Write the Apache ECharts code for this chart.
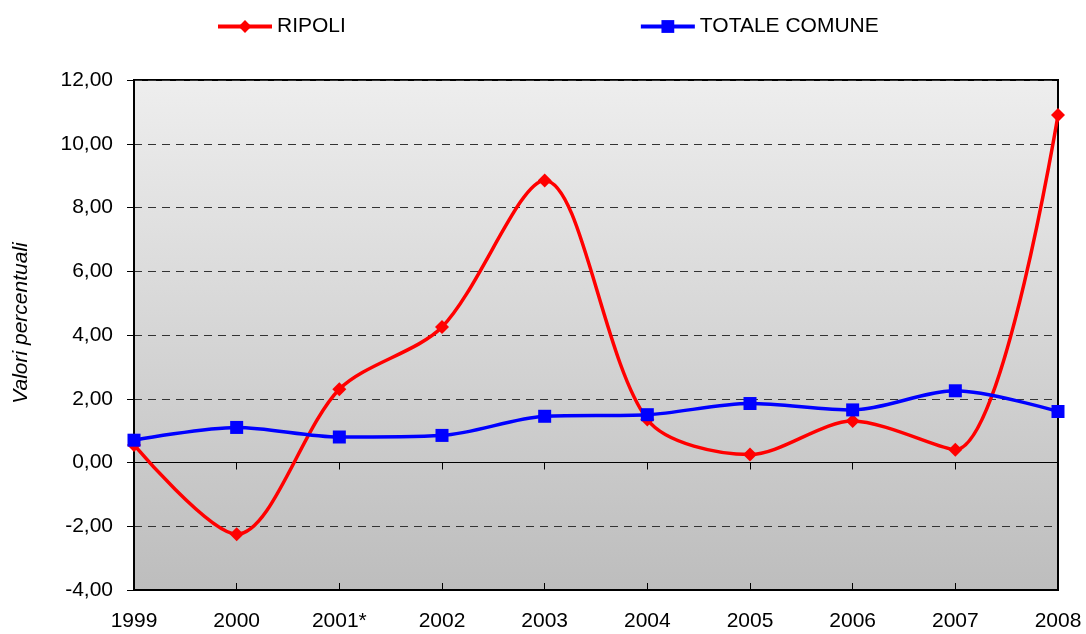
<!DOCTYPE html>
<html>
<head>
<meta charset="utf-8">
<script src="https://cdn.jsdelivr.net/npm/echarts@6/dist/echarts.min.js"></script>
<style>
  html, body { margin: 0; padding: 0; background: #fff; }
  #grafico { width: 1086px; height: 634px; }
</style>
</head>
<body>
<div id="grafico"></div>
<script>
var anni = ['1999', '2000', '2001*', '2002', '2003', '2004', '2005', '2006', '2007', '2008'];
var ripoli = [0.55, -2.25, 2.3, 4.25, 8.85, 1.35, 0.25, 1.3, 0.4, 10.9];
var totaleComune = [0.7, 1.1, 0.8, 0.85, 1.45, 1.5, 1.85, 1.65, 2.25, 1.6];

var chart = echarts.init(document.getElementById('grafico'));
var font = 'Liberation Sans, Arial, sans-serif';

function virgola(v) {
  return v.toFixed(2).replace('.', ',');
}

var option = {
  animation: false,
  textStyle: { fontFamily: font },
  legend: {
    top: 11,
    left: 211,
    itemGap: 293,
    itemWidth: 54,
    itemHeight: 16,
    lineStyle: { width: 4 },
    textStyle: { fontSize: 21, color: '#000', fontFamily: font },
    data: ['RIPOLI', 'TOTALE COMUNE']
  },
  grid: {
    left: 134,
    right: 28,
    top: 80,
    bottom: 44,
    show: true,
    borderColor: '#000',
    borderWidth: 2,
    backgroundColor: {
      type: 'linear', x: 0, y: 0, x2: 0, y2: 1,
      colorStops: [
        { offset: 0, color: '#eeeeee' },
        { offset: 1, color: '#bdbdbd' }
      ]
    }
  },
  xAxis: [
    {
      type: 'category',
      data: anni,
      boundaryGap: false,
      axisLine: { onZero: false, show: false },
      axisTick: { show: false },
      axisLabel: { fontSize: 21, color: '#000', margin: 21, fontFamily: font },
      splitLine: { show: false }
    },
    {
      type: 'category',
      data: anni,
      boundaryGap: false,
      position: 'bottom',
      axisLine: { onZero: true, lineStyle: { color: '#000', width: 1 } },
      axisTick: { show: true, length: 7, lineStyle: { color: '#000' } },
      axisLabel: { show: false }
    },
    {
      type: 'category',
      data: anni,
      boundaryGap: false,
      position: 'bottom',
      axisLine: { onZero: true, lineStyle: { color: '#000', width: 1 } },
      axisTick: { show: true, inside: true, length: 7, lineStyle: { color: '#000' } },
      axisLabel: { show: false }
    }
  ],
  yAxis: {
    type: 'value',
    min: -4,
    max: 12,
    interval: 2,
    name: 'Valori percentuali',
    nameLocation: 'middle',
    nameGap: 102,
    nameTextStyle: {
      fontSize: 21, fontStyle: 'italic', color: '#000', fontFamily: font,
      padding: [0, 0, 0, 24]
    },
    axisLine: { show: true, lineStyle: { color: '#000', width: 2 } },
    axisTick: { show: true, length: 7, lineStyle: { color: '#000' } },
    axisLabel: { fontSize: 21, color: '#000', margin: 21, fontFamily: font, formatter: virgola },
    splitLine: { show: true, lineStyle: { color: '#333', type: [8, 6], width: 1 } }
  },
  series: [
    {
      name: 'RIPOLI',
      type: 'line',
      data: ripoli,
      smooth: 0.3,
      symbol: 'diamond',
      symbolSize: 14,
      lineStyle: { color: '#ff0000', width: 3.5 },
      itemStyle: { color: '#ff0000' },
      z: 3
    },
    {
      name: 'TOTALE COMUNE',
      type: 'line',
      data: totaleComune,
      smooth: 0.3,
      symbol: 'rect',
      symbolSize: 13,
      lineStyle: { color: '#0000ff', width: 3.5 },
      itemStyle: { color: '#0000ff' },
      z: 4
    }
  ]
};

chart.setOption(option);
window.addEventListener('resize', function () {
  chart.resize();
});
</script>
</body>
</html>
